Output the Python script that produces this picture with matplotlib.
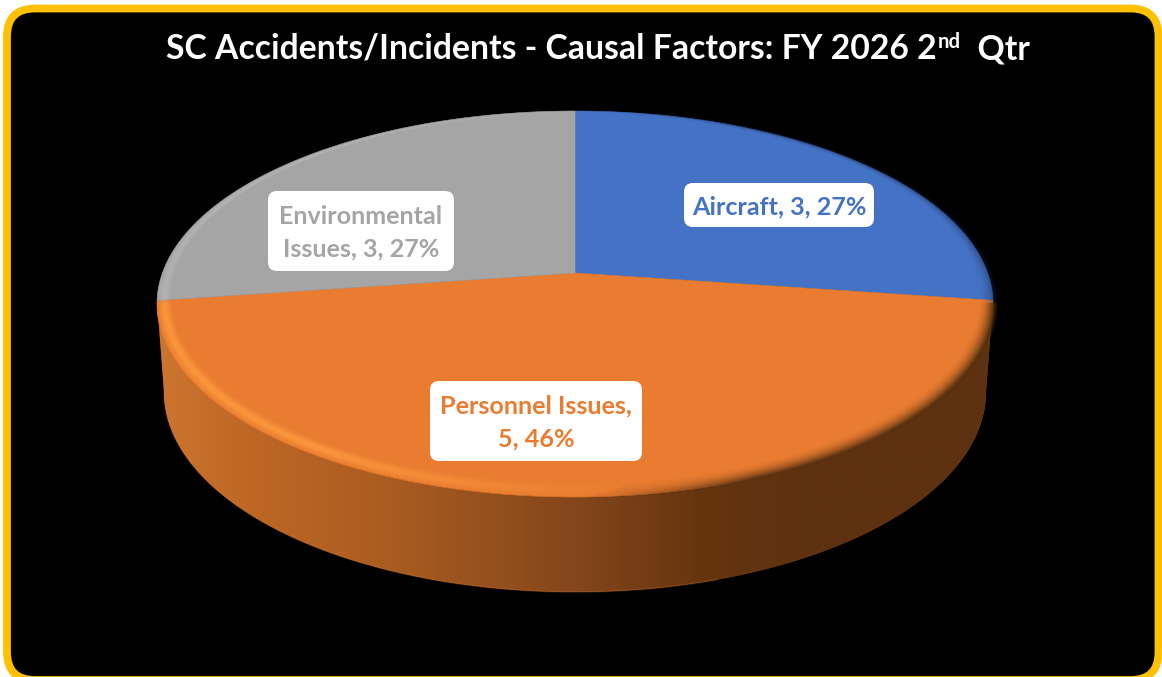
import numpy as np
import matplotlib
matplotlib.use("Agg")
import matplotlib.pyplot as plt
from matplotlib.patches import FancyBboxPatch, Polygon
from matplotlib.colors import LinearSegmentedColormap

# ---- data ----
categories = ["Aircraft", "Personnel Issues", "Environmental Issues"]
values = [3, 5, 3]
percents = [27, 46, 27]
colors = ["#4472C4", "#E97C30", "#A5A5A5"]
label_lines = [
    ["Aircraft, 3, 27%"],
    ["Personnel Issues,", "5, 46%"],
    ["Environmental", "Issues, 3, 27%"],
]

W, H = 1162, 677
fig = plt.figure(figsize=(W / 100, H / 100), dpi=100, facecolor="white")
ax = fig.add_axes([0, 0, 1, 1])
ax.set_xlim(0, W)
ax.set_ylim(H, 0)
ax.axis("off")

FONT = "Lato"
GOLD = "#FFC000"

# frame
ax.add_patch(FancyBboxPatch((7, 8.5), 1151.5, 671.5,
                            boxstyle="round,pad=0,rounding_size=28",
                            fc="black", ec=GOLD, lw=5.6, zorder=1))

# ---- perspective pie geometry ----
CX, APEX_Y = 575.0, 273.0
K, B_P, A_P = 0.1606, 188.0, 412.6


def project(theta_deg):
    t = np.radians(theta_deg)
    u, v = np.sin(t), np.cos(t)
    w = 1 + K * v
    return CX + A_P * u / w, APEX_Y - B_P * v / w


fractions = np.array(values, float) / np.sum(values)
edges = np.concatenate([[0], np.cumsum(fractions)]) * 360

# side wall (the wedge that faces the viewer: Personnel Issues)
front = 1
th = np.linspace(edges[front], edges[front + 1], 300)
tx, ty = project(th)
phi = np.radians(np.linspace(90, 270, 300))
lx, ly = CX + 411 * np.sin(phi), 392 - 200 * np.cos(phi)
side_xy = np.column_stack([np.r_[tx, lx[::-1]], np.r_[ty, ly[::-1]]])
side_patch = Polygon(side_xy, closed=True, fc="#8A4A1C", ec="none", zorder=2)
ax.add_patch(side_patch)
side_cmap = LinearSegmentedColormap.from_list("side", [
    (0.00, "#CC7530"), (0.11, "#BE6725"), (0.29, "#A85B20"), (0.50, "#84461B"),
    (0.65, "#66350F"), (0.78, "#5E3110"), (1.00, "#5E3110")])
grad = np.linspace(0, 1, 840)[None, :]
im = ax.imshow(grad, cmap=side_cmap, extent=(157, 993, 600, 280), aspect="auto",
               zorder=3, interpolation="bilinear")
im.set_clip_path(side_patch)
ax.set_xlim(0, W)
ax.set_ylim(H, 0)
edge_part = lx < 720
ax.plot(lx[edge_part], ly[edge_part], color="#E08038", lw=1.2, alpha=0.22, zorder=4)

# top face wedges
for i, c in enumerate(colors):
    th = np.linspace(edges[i], edges[i + 1], 300)
    x, y = project(th)
    ax.add_patch(Polygon(np.column_stack([np.r_[CX, x], np.r_[APEX_Y, y]]),
                         closed=True, fc=c, ec=c, lw=0.4, zorder=5))

# bevel around the rim of the top face
xs, ys = np.meshgrid(np.arange(150, 1000) + 0.5, np.arange(105, 505) + 0.5)
r_out = np.hypot((xs - CX) / 418.0, (ys - 304.0) / 193.0)
r_in = np.hypot((xs - CX) / 403.0, (ys - 298.0) / 184.0)
t = np.clip((1 - r_out) / np.maximum((1 - r_out) + (r_in - 1), 1e-6), 0, 1)
left = np.clip((CX + 60 - xs) / 320.0, 0, 1)
right = np.clip((xs - CX - 10) / 170.0, 0, 1)
lower = ys >= 303
hi = np.exp(-((t - 0.5) / 0.33) ** 2) * left
dk = (1 - t) ** 2.0 * right
use_dark = dk > hi
in_band = np.clip((r_in - 1) / 0.004, 0, 1)
out_soft = np.clip((1.012 - r_out) / 0.012, 0, 1)
out_hi = np.clip((1.0 - r_out) / 0.004, 0, 1)
rgba = np.zeros(xs.shape + (4,))
rgba[..., 0] = np.where(use_dark, np.where(lower, 0.34, 0.12), 1.0)
rgba[..., 1] = np.where(use_dark, np.where(lower, 0.19, 0.18), np.where(lower, 0.62, 1.0))
rgba[..., 2] = np.where(use_dark, np.where(lower, 0.06, 0.35), np.where(lower, 0.25, 1.0))
rgba[..., 3] = in_band * np.where(use_dark, dk * np.where(lower, 0.95, 0.45) * out_soft,
                                  hi * np.where(lower, 0.75, 0.14) * out_hi)
ax.imshow(rgba, extent=(150, 1000, 505, 105), aspect="auto", zorder=6, interpolation="bilinear")
ax.set_xlim(0, W)
ax.set_ylim(H, 0)

# data labels: white rounded boxes in slice colour
boxes = [(684, 183, 190, 44), (430, 381, 212, 80), (268, 191, 186, 80)]
LABEL_SIZE = 18.1
for lines, c, (bx, by, bw, bh) in zip(label_lines, colors, boxes):
    ax.add_patch(FancyBboxPatch((bx, by), bw, bh, boxstyle="round,pad=0,rounding_size=9",
                                fc="white", ec="none", zorder=7))
    n = len(lines)
    for j, line in enumerate(lines):
        yy = by + bh / 2 + 1.5 + (j - (n - 1) / 2) * 33
        ax.text(bx + bw / 2, yy, line, color=c, fontsize=LABEL_SIZE, fontweight="bold",
                family=FONT, ha="center", va="center", zorder=8)

# title, with raised ordinal suffix
renderer = fig.canvas.get_renderer()
TITLE_Y = 59
TITLE_SIZE = 24.3
x_cursor = 166.0
for txt, size, dy, gap in [("SC Accidents/Incidents - Causal Factors: FY 2026 2", TITLE_SIZE, 0, 1),
                           ("nd", TITLE_SIZE * 0.6, -11, 0),
                           ("  Qtr", TITLE_SIZE, 0, 0)]:
    a = ax.text(x_cursor, TITLE_Y + dy, txt, color="white", fontsize=size, fontweight="bold",
                family=FONT, ha="left", va="baseline", zorder=8)
    x_cursor = a.get_window_extent(renderer).x1 + gap

fig.savefig("out.png", dpi=100, facecolor="white")
